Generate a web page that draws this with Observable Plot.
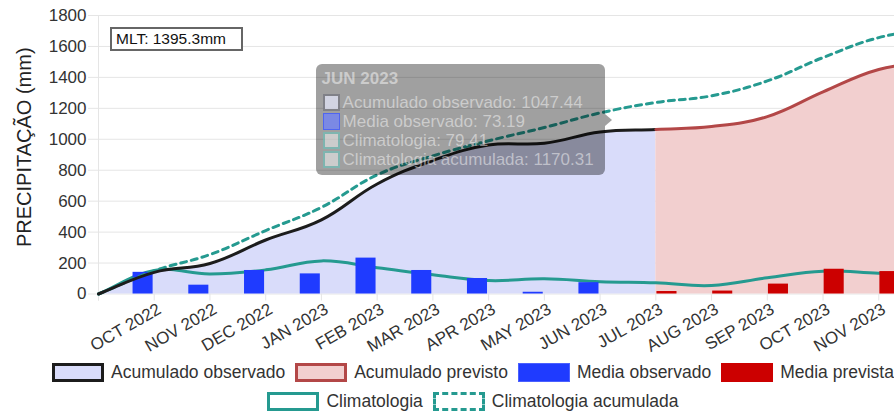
<!DOCTYPE html>
<html><head><meta charset="utf-8">
<script src="https://cdn.jsdelivr.net/npm/d3@7"></script>
<script src="https://cdn.jsdelivr.net/npm/@observablehq/plot@0.6"></script>
<style>
html,body{margin:0;padding:0;background:#fff;overflow:hidden;}
body{font-family:"Liberation Sans",Arial,Helvetica,sans-serif;}
#wrap{position:relative;width:946px;height:411px;}
.legend-row{position:absolute;left:0;width:946px;display:flex;justify-content:center;align-items:center;font-size:17.5px;color:#333;white-space:nowrap;}
.legend-item{display:flex;align-items:center;margin:0 5px;}
.sw{box-sizing:border-box;width:52px;height:19px;margin-right:7px;}
.tip{position:absolute;box-sizing:border-box;border-radius:6px;}
.tip .caret{position:absolute;width:0;height:0;border-top:6px solid transparent;border-bottom:6px solid transparent;}
.tip .title{position:absolute;left:6px;top:5px;font-weight:bold;font-size:17px;line-height:20px;}
.tip .row{position:absolute;left:7px;font-size:17px;line-height:19px;height:19px;display:flex;align-items:center;white-space:nowrap;}
.tip .row .box{box-sizing:border-box;width:17px;height:17px;margin-right:3px;}
.tip .row .box div{box-sizing:border-box;width:17px;height:17px;}
.mlt{position:absolute;box-sizing:border-box;height:24px;border:2px solid #666;background:#fff;font-size:15.5px;line-height:20px;padding:0 4px;color:#111;}
</style></head>
<body><div id="wrap"></div>
<script>
// ---------------- data ----------------
const labels = ["", "OCT 2022", "NOV 2022", "DEC 2022", "JAN 2023", "FEB 2023", "MAR 2023", "APR 2023", "MAY 2023", "JUN 2023", "JUL 2023", "AUG 2023", "SEP 2023", "OCT 2023", "NOV 2023", ""];
const acumuladoObservado = [0, 140, 197, 349, 479, 711, 863, 963, 974.25, 1047.44, 1063.44, null, null, null, null, null];
const acumuladoPrevisto = [null, null, null, null, null, null, null, null, null, null, 1063.44, 1082.44, 1146.44, 1306.44, 1451.44, 1501.44];
const mediaObservado = [null, 140, 57, 152, 130, 232, 152, 100, 11.25, 73.19, null, null, null, null, null, null];
const mediaPrevista = [null, null, null, null, null, null, null, null, null, null, 16, 19, 64, 160, 145, 50];
const climatologia = [0, 152, 130, 156, 214, 170, 124, 87, 98, 79.41, 72, 55, 105, 147, 134, 125];
const climatologiaAcumulada = [0, 150, 255, 410, 560, 770, 893, 990, 1076, 1170.31, 1238, 1281, 1377, 1528, 1657, 1715];
const yTicks = [0, 200, 400, 600, 800, 1000, 1200, 1400, 1600, 1800];
const mlt = 1395.3;
const tooltipIndex = 9;
const tooltipTitle = "JUN 2023";
const yLabel = "PRECIPITAÇÃO (mm)";
const seriesNames = ["Acumulado observado", "Acumulado previsto", "Media observado", "Media prevista", "Climatologia", "Climatologia acumulada"];

// ---------------- styles ----------------
const FONT = '"Liberation Sans", Arial, Helvetica, sans-serif';
const C = {
  obsFill: "#d9dcfa", obsLine: "#1c1c1c",
  prevFill: "#f2cfcf", prevLine: "#b34747",
  barObs: "#1f3bff", barPrev: "#cc0000",
  teal: "#259a90", grid: "#e5e5e5", text: "#333"
};
const OP = 0.466; // tooltip fade

// Chart.js-like spline (tension 0.4) as a d3 curve
class ChartCurve {
  constructor(ctx) { this._context = ctx; }
  areaStart() { this._line = 0; }
  areaEnd() { this._line = NaN; }
  lineStart() { this._p = []; }
  point(x, y) { this._p.push([+x, +y]); }
  lineEnd() {
    const p = this._p, n = p.length, c = this._context, t = 0.4;
    if (n) {
      if (this._line) c.lineTo(p[0][0], p[0][1]); else c.moveTo(p[0][0], p[0][1]);
      const cp = p.map((cur, i) => {
        const prev = p[Math.max(i - 1, 0)], next = p[Math.min(i + 1, n - 1)];
        const d01 = Math.hypot(cur[0] - prev[0], cur[1] - prev[1]);
        const d12 = Math.hypot(next[0] - cur[0], next[1] - cur[1]);
        let s01 = d01 / (d01 + d12), s12 = d12 / (d01 + d12);
        if (!isFinite(s01)) s01 = 0;
        if (!isFinite(s12)) s12 = 0;
        const fa = t * s01, fb = t * s12;
        return {
          px: cur[0] - fa * (next[0] - prev[0]), py: cur[1] - fa * (next[1] - prev[1]),
          nx: cur[0] + fb * (next[0] - prev[0]), ny: cur[1] + fb * (next[1] - prev[1])
        };
      });
      for (let i = 0; i < n - 1; i++) c.bezierCurveTo(cp[i].nx, cp[i].ny, cp[i + 1].px, cp[i + 1].py, p[i + 1][0], p[i + 1][1]);
    }
    if (this._line || (this._line !== 0 && n === 1)) c.closePath();
    this._line = 1 - this._line;
  }
}
const curve = (ctx) => new ChartCurve(ctx);

const rows = labels.map((label, i) => ({
  i, label,
  accObs: acumuladoObservado[i], accPrev: acumuladoPrevisto[i],
  medObs: mediaObservado[i], medPrev: mediaPrevista[i],
  clim: climatologia[i], climAcc: climatologiaAcumulada[i]
}));
const obsRows = rows.filter(d => d.accObs != null);
const prevRows = rows.filter(d => d.accPrev != null);
const barObsRows = rows.filter(d => d.medObs != null);
const barPrevRows = rows.filter(d => d.medPrev != null);
const labelRows = rows.filter(d => d.label !== "");

const W = 946, H = 352, ML = 98, MR = 12, MT = 15, MB = 58.5;
const half = 0.36; // bar width in category units

const chart = Plot.plot({
  width: W, height: H,
  marginLeft: ML, marginRight: MR, marginTop: MT, marginBottom: MB,
  x: {type: "linear", domain: [0, labels.length - 1], axis: null},
  y: {domain: [0, 1800], axis: null},
  style: {fontFamily: FONT, background: "white", overflow: "visible"},
  marks: [
    Plot.ruleY(yTicks, {y: d => d, stroke: C.grid, insetLeft: -10}),
    Plot.ruleX([0], {x: d => d, stroke: C.grid, insetBottom: -7}),
    Plot.axisX({ticks: rows.map(d => d.i), tickSize: 7, tickFormat: () => "", stroke: C.grid}),
    Plot.text(yTicks, {y: d => d, text: d => String(d), frameAnchor: "left", textAnchor: "end", dx: -12, fontSize: 17, fill: C.text}),
    Plot.text([yLabel], {text: d => d, frameAnchor: "left", textAnchor: "middle", lineAnchor: "middle", rotate: -90, dx: -74, dy: -7.5, fontSize: 20, fill: "#222"}),
    Plot.text(labelRows, {x: "i", text: "label", frameAnchor: "bottom", rotate: -30, textAnchor: "end", lineAnchor: "top", dx: 2, dy: 8, fontSize: 17, fill: C.text}),
    Plot.areaY(obsRows, {x: "i", y: "accObs", fill: C.obsFill, curve}),
    Plot.areaY(prevRows, {x: "i", y: "accPrev", fill: C.prevFill, curve}),
    Plot.line(rows, {x: "i", y: "clim", stroke: C.teal, strokeWidth: 3, curve}),
    Plot.rectY(barObsRows, {x1: d => d.i - half - 0.02, x2: d => d.i - 0.02, y1: 0, y2: "medObs", fill: C.barObs}),
    Plot.rectY(barPrevRows, {x1: d => d.i + 0.02, x2: d => d.i + half + 0.02, y1: 0, y2: "medPrev", fill: C.barPrev}),
    Plot.line(rows, {x: "i", y: "climAcc", stroke: C.teal, strokeWidth: 3, strokeDasharray: "6,5", curve}),
    Plot.line(obsRows, {x: "i", y: "accObs", stroke: C.obsLine, strokeWidth: 3, curve}),
    Plot.line(prevRows, {x: "i", y: "accPrev", stroke: C.prevLine, strokeWidth: 3, curve})
  ]
});

const wrap = document.getElementById("wrap");
chart.style.position = "absolute";
chart.style.left = "0px";
chart.style.top = "0px";
chart.style.maxWidth = "none";
wrap.appendChild(chart);

const xs = chart.scale("x"), ys = chart.scale("y");

// MLT box
const mltBox = document.createElement("div");
mltBox.className = "mlt";
mltBox.style.left = (ML + 12) + "px";
mltBox.style.top = (MT + 12) + "px";
mltBox.style.width = "133px";
mltBox.textContent = `MLT: ${mlt}mm`;
wrap.appendChild(mltBox);

// Tooltip at JUN 2023 (faded in, as captured)
const rgba = (hex, a) => {
  const c = d3.rgb(hex);
  return `rgba(${c.r},${c.g},${c.b},${a})`;
};
const jx = xs.apply(tooltipIndex);
const topY = ys.apply(1800) + 49;
const tip = document.createElement("div");
tip.className = "tip";
tip.style.left = (jx - 284) + "px";
tip.style.top = topY + "px";
tip.style.width = "289px";
tip.style.height = "111px";
tip.style.background = `rgba(0,0,0,${0.8 * OP})`;
tip.style.color = `rgba(255,255,255,${OP})`;
const caret = document.createElement("div");
caret.className = "caret";
caret.style.left = "289px";
caret.style.top = "50px";
caret.style.borderLeft = `7px solid rgba(0,0,0,${0.8 * OP})`;
tip.appendChild(caret);
const ttl = document.createElement("div");
ttl.className = "title";
ttl.textContent = tooltipTitle;
tip.appendChild(ttl);
const r = rows[tooltipIndex];
const tipItems = [
  {name: seriesNames[0], v: r.accObs, bg: C.obsFill, bc: "#222", bw: 2},
  {name: seriesNames[2], v: r.medObs, bg: C.barObs, bc: C.barObs, bw: 1},
  {name: seriesNames[4], v: r.clim, bg: null, bc: C.teal, bw: 2},
  {name: seriesNames[5], v: r.climAcc, bg: null, bc: C.teal, bw: 2}
];
tipItems.forEach((it, k) => {
  const row = document.createElement("div");
  row.className = "row";
  row.style.top = (29 + k * 19) + "px";
  const b = document.createElement("div");
  b.className = "box";
  b.style.background = `rgba(255,255,255,${OP})`;
  const inner = document.createElement("div");
  inner.style.background = it.bg ? rgba(it.bg, OP) : "transparent";
  inner.style.border = `${it.bw}px solid ${rgba(it.bc, OP)}`;
  b.appendChild(inner);
  row.appendChild(b);
  const s = document.createElement("span");
  s.textContent = `${it.name}: ${it.v}`;
  row.appendChild(s);
  tip.appendChild(row);
});
wrap.appendChild(tip);

// Legend
const legendDefs = [
  [
    {name: seriesNames[0], bg: C.obsFill, border: "3px solid " + C.obsLine},
    {name: seriesNames[1], bg: C.prevFill, border: "3px solid " + C.prevLine},
    {name: seriesNames[2], bg: C.barObs, border: "1px solid #4a60ff"},
    {name: seriesNames[3], bg: C.barPrev, border: "1px solid " + C.barPrev}
  ],
  [
    {name: seriesNames[4], bg: "#fff", border: "3px solid " + C.teal},
    {name: seriesNames[5], bg: "#fff", border: "3px dashed " + C.teal}
  ]
];
legendDefs.forEach((items, ri) => {
  const rowEl = document.createElement("div");
  rowEl.className = "legend-row";
  rowEl.style.top = (362 + ri * 29) + "px";
  rowEl.style.height = "21px";
  items.forEach(it => {
    const item = document.createElement("div");
    item.className = "legend-item";
    const sw = document.createElement("div");
    sw.className = "sw";
    sw.style.background = it.bg;
    sw.style.border = it.border;
    item.appendChild(sw);
    const t = document.createElement("span");
    t.textContent = it.name;
    item.appendChild(t);
    rowEl.appendChild(item);
  });
  wrap.appendChild(rowEl);
});
</script>
</body></html>
